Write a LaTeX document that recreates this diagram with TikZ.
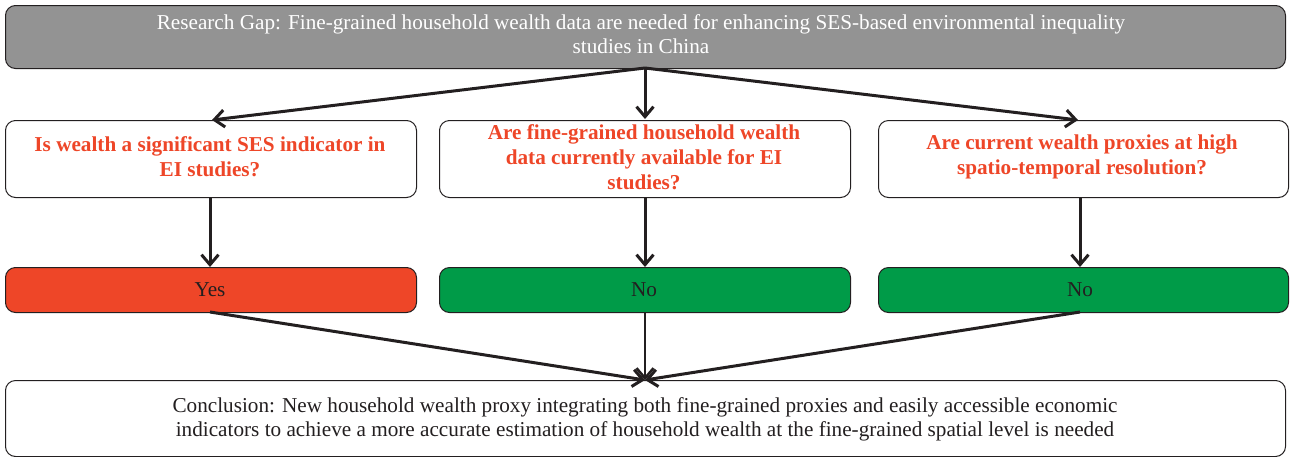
\documentclass[tikz,border=0pt]{standalone}
\usepackage{fontspec}
\setmainfont{Liberation Serif}
\usetikzlibrary{arrows.meta}
\definecolor{gapgray}{HTML}{939393}
\definecolor{qred}{HTML}{EE4628}
\definecolor{ansgreen}{HTML}{009B48}
\definecolor{linecol}{HTML}{231F20}
\tikzset{
  box/.style={draw=linecol, line width=1pt, rounded corners=10pt, inner sep=0pt, anchor=north west},
  qtext/.style={text=qred, font=\fontsize{21.2}{25}\selectfont\bfseries, align=center},
  ntext/.style={font=\fontsize{21.2}{24}\selectfont, align=center},
  conn/.style={draw=linecol, line width=3pt, -{Straight Barb[length=10pt,width=17pt,line width=3pt]}},
  connthin/.style={draw=linecol, line width=2pt, -{Straight Barb[length=10pt,width=17pt,line width=2.5pt]}}
}
\begin{document}
\begin{tikzpicture}[x=1pt,y=-1pt]
\useasboundingbox (0,0) rectangle (1290,456);
% boxes
\node[box, fill=gapgray, minimum width=1280pt, minimum height=63pt] (gap) at (5,5) {};
\node[text=white, ntext] at (641,34) {Research Gap: Fine-grained household wealth data are needed for enhancing SES-based environmental inequality\\studies in China};
\node[box, fill=white, minimum width=411pt, minimum height=77pt] (q1) at (5,120) {};
\node[box, fill=white, minimum width=411pt, minimum height=77pt] (q2) at (439,120) {};
\node[box, fill=white, minimum width=410pt, minimum height=77pt] (q3) at (878,120) {};
\node[qtext] at (210,157) {Is wealth a significant SES indicator in\\EI studies?};
\node[qtext] at (644,157) {Are fine-grained household wealth\\data currently available for EI\\studies?};
\node[qtext] at (1082,157) {Are current wealth proxies at high\\spatio-temporal resolution?};
\node[box, fill=qred, minimum width=411pt, minimum height=45pt] (a1) at (5,267) {};
\node[box, fill=ansgreen, minimum width=411pt, minimum height=45pt] (a2) at (439,267) {};
\node[box, fill=ansgreen, minimum width=410pt, minimum height=45pt] (a3) at (878,267) {};
\node[ntext, text=linecol] at (210,290) {Yes};
\node[ntext, text=linecol] at (644,290) {No};
\node[ntext, text=linecol] at (1080,290) {No};
\node[box, fill=white, minimum width=1280pt, minimum height=76pt] (con) at (5,380) {};
\node[ntext, text=linecol] at (645,419) {Conclusion: New household wealth proxy integrating both fine-grained proxies and easily accessible economic\\indicators to achieve a more accurate estimation of household wealth at the fine-grained spatial level is needed};
% coordinates
\coordinate (gapb) at (645,68);
\coordinate (q1t) at (212,120);
\coordinate (q2t) at (645,119);
\coordinate (q3t) at (1078,120);
\coordinate (q1b) at (210,197);
\coordinate (q2b) at (645,197);
\coordinate (q3b) at (1080,197);
\coordinate (a1t) at (210,267);
\coordinate (a2t) at (645,267);
\coordinate (a3t) at (1080,267);
\coordinate (a1b) at (210,312);
\coordinate (a2b) at (645,312);
\coordinate (a3b) at (1080,312);
\coordinate (cont) at (645,380);
% connectors
\draw[conn] (gapb) -- (q1t);
\draw[conn] (gapb) -- (q2t);
\draw[conn] (gapb) -- (q3t);
\draw[conn] (q1b) -- (a1t);
\draw[conn] (q2b) -- (a2t);
\draw[conn] (q3b) -- (a3t);
\draw[conn] (a1b) -- (cont);
\draw[connthin] (a2b) -- (cont);
\draw[conn] (a3b) -- (cont);
\end{tikzpicture}
\end{document}
